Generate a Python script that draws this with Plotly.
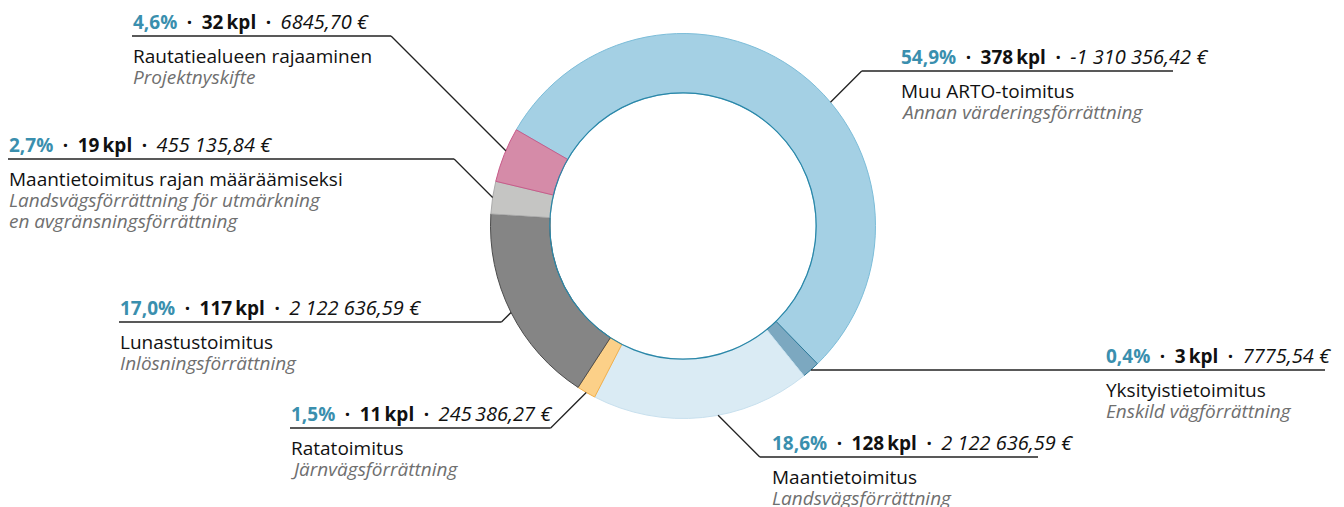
import math
import plotly.graph_objects as go

# ---------------- data ----------------
fi_names = ["Muu ARTO-toimitus", "Yksityistietoimitus", "Maantietoimitus", "Ratatoimitus",
            "Lunastustoimitus", "Maantietoimitus rajan määräämiseksi", "Rautatiealueen rajaaminen"]
sv_names = [["Annan värderingsförrättning"], ["Enskild vägförrättning"], ["Landsvägsförrättning"],
            ["Järnvägsförrättning"], ["Inlösningsförrättning"],
            ["Landsvägsförrättning för utmärkning", "en avgränsningsförrättning"], ["Projektnyskifte"]]
counts = [378, 3, 128, 11, 117, 19, 32]
pct_labels = ["54,9%", "0,4%", "18,6%", "1,5%", "17,0%", "2,7%", "4,6%"]
euro_labels = ["-1 310 356,42 €", "7775,54 €", "2 122 636,59 €", "245\u2009386,27 €",
               "2 122 636,59 €", "455 135,84 €", "6845,70 €"]

# ---------------- style ----------------
fill_colors = ["#a4d0e4", "#7ca8c0", "#daebf4", "#fcd088", "#858585", "#c5c5c3", "#d58ba8"]
edge_colors = ["#7cbdd9", "#2d7a9a", "#c8e0ee", "#f3b04c", "#4d4d4d", "#aaaaaa", "#c85b8a"]
TEAL = "#3a8fae"
GREY_TXT = "#6f6f6f"
FONT = "Open Sans"
FS = 19
MIN_SHARE = 0.015          # smallest slices are drawn at least this wide

W, H = 1344, 507
CX, CY, R = 683.0, 226.0, 192.5
HOLE = 0.692
ROT = -60

# label layout: (text_x, line_y, line_far_x, side, anchor_angle_override)
label_layout = [
    (900, 71, 1173, "right", 50),
    (1105, 370, 1325, "right", None),
    (771, 457, 1038, "right", 169.5),
    (290, 428, 290, "left", None),
    (119, 322, 119, "left", None),
    (8, 159, 8, "left", None),
    (132, 36, 132, "left", 293),
]


def px(x):
    return x / W


def py(y):
    return 1 - y / H


total_n = sum(counts)
shown = [max(v, MIN_SHARE * total_n) for v in counts]

fig = go.Figure()
fig.add_trace(go.Pie(
    values=shown,
    labels=fi_names,
    customdata=counts,
    sort=False,
    direction="clockwise",
    rotation=ROT,
    hole=HOLE,
    textinfo="none",
    hoverinfo="none",
    showlegend=False,
    marker=dict(colors=fill_colors, line=dict(color=edge_colors, width=1)),
    domain=dict(x=[px(CX - R), px(CX + R)], y=[py(CY + R), py(CY - R)]),
))

shapes = []
annotations = []
total = sum(shown)
cum = 0
SEP = "\u2002<b>·</b>\u2002"
for i, v in enumerate(shown):
    a0 = ROT + 360 * cum / total
    a1 = ROT + 360 * (cum + v) / total
    cum += v
    tx, ly, far_x, side, ov = label_layout[i]
    ang = math.radians(ov if ov is not None else (a0 + a1) / 2)
    ax = CX + R * math.sin(ang)
    ay = CY - R * math.cos(ang)
    d = abs(ly - ay)
    ex = ax + d if side == "right" else ax - d
    line = dict(color="#222222", width=1.3)
    shapes.append(dict(type="line", xref="paper", yref="paper",
                       x0=px(ax), y0=py(ay), x1=px(ex), y1=py(ly), line=line))
    shapes.append(dict(type="line", xref="paper", yref="paper",
                       x0=px(ex), y0=py(ly), x1=px(far_x), y1=py(ly), line=line))

    header = (f"<b><span style='color:{TEAL}'>{pct_labels[i]}</span></b>"
              f"{SEP}<b>{counts[i]}\u2009kpl</b>{SEP}"
              f"<i><span style='font-size:20px'>{euro_labels[i]}</span></i>")
    base = dict(xref="paper", yref="paper", xanchor="left", yanchor="middle",
                showarrow=False, font=dict(family=FONT, size=FS, color="#111111"))
    annotations.append(dict(base, x=px(tx - 1), y=py(ly - 14.5), text=header))
    annotations.append(dict(base, x=px(tx - 1), y=py(ly + 19.5), text=fi_names[i]))
    for k, s in enumerate(sv_names[i]):
        annotations.append(dict(base, x=px(tx - 1), y=py(ly + 40.5 + 21 * k), text=f"<i>{s}</i>",
                                font=dict(family=FONT, size=FS, color=GREY_TXT)))

# inner outline circle
ri = R * HOLE
shapes.append(dict(type="circle", xref="paper", yref="paper",
                   x0=px(CX - ri), x1=px(CX + ri), y0=py(CY + ri), y1=py(CY - ri),
                   line=dict(color="#2a87a8", width=1.2)))

fig.update_layout(
    width=W, height=H,
    margin=dict(l=0, r=0, t=0, b=0),
    paper_bgcolor="white", plot_bgcolor="white",
    shapes=shapes, annotations=annotations,
    font=dict(family=FONT, size=FS),
)
fig.write_html("out.html", config={"displayModeBar": False},
               post_script="document.body.style.margin='0px';")
